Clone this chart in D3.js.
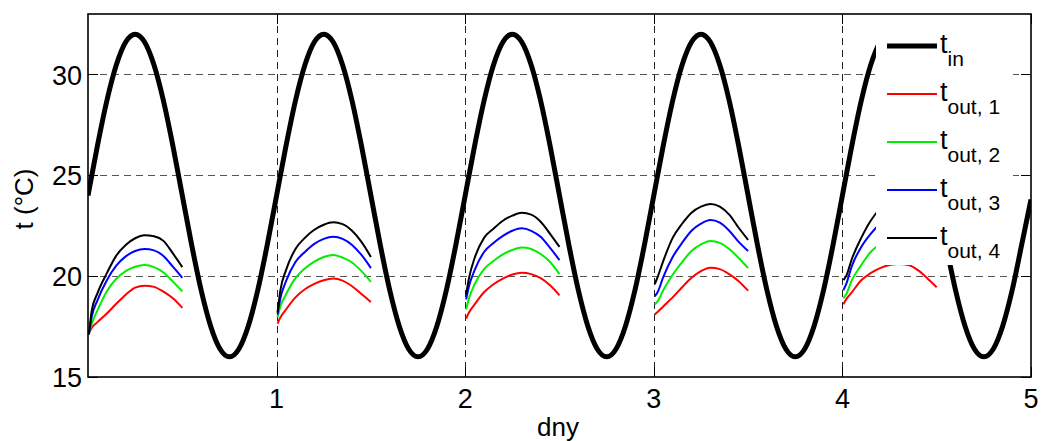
<!DOCTYPE html>
<html><head><meta charset="utf-8">
<script src="https://cdn.jsdelivr.net/npm/d3@7"></script>
<style>body{margin:0;background:#fff} svg{display:block} text{font-family:"Liberation Sans",Arial,sans-serif;fill:#000}</style>
</head><body><svg id="c" width="1043" height="441"></svg>
<script>
// ---- data ----
const xTicks = [1, 2, 3, 4, 5];
const yTicks = [15, 20, 25, 30];
const xGrid = [1, 2, 3, 4];
const yGrid = [20, 25, 30];
const days = [0, 1, 2, 3, 4];

// indoor temperature, sampled every 0.05 day from 0 to 5
const tInStep = 0.05;
const tIn = [
 24.0,26.47,28.70,30.47,31.61,32.0,31.61,30.47,28.70,26.47,24.0,21.53,19.30,17.53,16.39,16.0,16.39,17.53,19.30,21.53,
 24.0,26.47,28.70,30.47,31.61,32.0,31.61,30.47,28.70,26.47,24.0,21.53,19.30,17.53,16.39,16.0,16.39,17.53,19.30,21.53,
 24.0,26.47,28.70,30.47,31.61,32.0,31.61,30.47,28.70,26.47,24.0,21.53,19.30,17.53,16.39,16.0,16.39,17.53,19.30,21.53,
 24.0,26.47,28.70,30.47,31.61,32.0,31.61,30.47,28.70,26.47,24.0,21.53,19.30,17.53,16.39,16.0,16.39,17.53,19.30,21.53,
 24.0,26.47,28.70,30.47,31.61,32.0,31.61,30.47,28.70,26.47,24.0,21.53,19.30,17.53,16.39,16.0,16.39,17.53,19.30,21.53,
 23.8
];

// outlet temperatures: time offsets within each day, one row per day
const outOffsets = [0.005,0.02,0.05,0.10,0.15,0.20,0.25,0.30,0.35,0.40,0.45,0.50];
const tOut1 = [
 [17.20,17.45,17.72,18.15,18.63,19.08,19.43,19.53,19.47,19.23,18.90,18.43],
 [17.65,17.95,18.35,18.95,19.35,19.62,19.80,19.88,19.78,19.50,19.12,18.72],
 [17.90,18.20,18.60,19.20,19.60,19.88,20.08,20.17,20.10,19.90,19.55,19.05],
 [18.10,18.22,18.50,18.95,19.45,19.92,20.25,20.42,20.35,20.10,19.75,19.28],
 [18.60,18.85,19.20,19.80,20.15,20.40,20.55,20.60,20.55,20.30,19.90,19.45]
];
const tOut2 = [
 [17.20,17.65,18.30,19.25,19.87,20.25,20.47,20.55,20.45,20.18,19.73,19.25],
 [17.95,18.50,19.10,19.90,20.38,20.72,20.95,21.05,20.92,20.68,20.25,19.72],
 [18.35,18.90,19.60,20.35,20.75,21.08,21.30,21.42,21.35,21.10,20.70,20.10],
 [18.60,18.75,19.30,20.07,20.70,21.25,21.58,21.75,21.65,21.35,20.90,20.40],
 [18.90,19.10,19.80,20.55,21.20,21.60,21.90,22.05,21.95,21.65,21.20,20.75]
];
const tOut3 = [
 [17.15,18.00,18.80,19.80,20.52,20.98,21.25,21.35,21.28,21.00,20.47,19.92],
 [18.10,18.90,19.75,20.70,21.20,21.60,21.85,21.95,21.85,21.55,21.05,20.40],
 [18.85,19.50,20.30,21.20,21.65,22.00,22.25,22.37,22.25,21.95,21.40,20.80],
 [19.00,19.20,19.95,20.95,21.65,22.25,22.60,22.78,22.65,22.25,21.70,21.25],
 [19.30,19.60,20.50,21.45,22.10,22.60,22.95,23.10,22.95,22.60,22.05,21.55]
];
const tOut4 = [
 [17.10,18.30,19.15,20.15,21.02,21.55,21.88,22.03,21.98,21.75,21.13,20.45],
 [18.20,19.30,20.30,21.35,21.90,22.30,22.55,22.67,22.58,22.25,21.70,20.95],
 [19.10,19.90,20.90,21.90,22.35,22.75,23.00,23.15,23.05,22.70,22.10,21.45],
 [19.60,19.95,20.75,21.90,22.60,23.15,23.45,23.58,23.45,23.05,22.40,21.80],
 [19.80,20.00,20.85,21.90,22.75,23.35,23.70,23.85,23.70,23.30,22.70,22.10]
];
const seriesNames = ["in", "out, 1", "out, 2", "out, 3", "out, 4"];
const seriesColors = ["#000000", "#ff0000", "#00ee00", "#0000ff", "#000000"];

// ---- layout ----
const L = 88, R = 1031, T = 14, B = 377;
const svg = d3.select("#c");
const x = d3.scaleLinear().domain([0, 5]).range([L, R]);
const y = d3.scaleLinear().domain([15, 33]).range([B, T]);

svg.append("defs").append("clipPath").attr("id", "clip")
  .append("rect").attr("x", L).attr("y", T).attr("width", R - L).attr("height", B - T);

// grid
svg.append("g").selectAll("line").data(yGrid).join("line")
  .attr("x1", L).attr("x2", R).attr("y1", d => Math.round(y(d)) + 0.5).attr("y2", d => Math.round(y(d)) + 0.5)
  .attr("stroke", "#555").attr("stroke-width", 1.2).attr("stroke-dasharray", "7,5");
svg.append("g").selectAll("line").data(xGrid).join("line")
  .attr("y1", T).attr("y2", B).attr("x1", d => Math.round(x(d)) + 0.5).attr("x2", d => Math.round(x(d)) + 0.5)
  .attr("stroke", "#222").attr("stroke-width", 1).attr("stroke-dasharray", "7,5");

const plot = svg.append("g").attr("clip-path", "url(#clip)");
const line = d3.line().x(d => x(d[0])).y(d => y(d[1])).curve(d3.curveMonotoneX);

// indoor
const tInPts = tIn.map((v, i) => [i * tInStep, v]);
plot.append("path").attr("d", line(tInPts)).attr("fill", "none")
  .attr("stroke", "#000").attr("stroke-width", 5).attr("stroke-linejoin", "round");

// outlets
const outs = [tOut1, tOut2, tOut3, tOut4];
outs.forEach((s, k) => {
  days.forEach(d => {
    const pts = outOffsets.map((o, i) => [d + o, s[d][i]]);
    plot.append("path").attr("d", line(pts)).attr("fill", "none")
      .attr("stroke", seriesColors[k + 1]).attr("stroke-width", 2).attr("stroke-linejoin", "round");
  });
});

// legend
const lg = svg.append("g");
lg.append("rect").attr("x", 876).attr("y", 18).attr("width", 137).attr("height", 247).attr("fill", "#fff");
seriesNames.forEach((n, i) => {
  const yy = 46 + i * 48;
  lg.append("line").attr("x1", 887).attr("x2", 937).attr("y1", yy).attr("y2", yy)
    .attr("stroke", seriesColors[i]).attr("stroke-width", i === 0 ? 5 : 2);
  const t = lg.append("text").attr("x", 940).attr("y", yy + 7).attr("font-size", 27);
  t.append("tspan").text("t");
  t.append("tspan").attr("dy", 13).attr("font-size", 21).text(n);
});

// axes box
svg.append("rect").attr("x", L).attr("y", T).attr("width", R - L).attr("height", B - T)
  .attr("fill", "none").attr("stroke", "#000").attr("stroke-width", 1.6);
// inward ticks
const tk = svg.append("g").attr("stroke", "#000").attr("stroke-width", 1);
yTicks.forEach(v => {
  const yy = Math.round(y(v)) + 0.5;
  tk.append("line").attr("x1", L).attr("x2", L + 10).attr("y1", yy).attr("y2", yy);
  tk.append("line").attr("x1", R - 10).attr("x2", R).attr("y1", yy).attr("y2", yy);
});
xTicks.forEach(v => {
  const xx = Math.round(x(v)) + 0.5;
  tk.append("line").attr("x1", xx).attr("x2", xx).attr("y1", B).attr("y2", B - 10);
  tk.append("line").attr("x1", xx).attr("x2", xx).attr("y1", T).attr("y2", T + 10);
});

// tick labels
svg.append("g").selectAll("text").data(yTicks).join("text")
  .attr("x", 82).attr("y", d => y(d) + 10).attr("text-anchor", "end").attr("font-size", 27)
  .text(d => d);
svg.append("g").selectAll("text").data(xTicks).join("text")
  .attr("x", d => x(d)).attr("y", 408).attr("text-anchor", "middle").attr("font-size", 27)
  .text(d => d);

// axis titles
svg.append("text").attr("x", 558).attr("y", 436).attr("text-anchor", "middle").attr("font-size", 26).text("dny");
svg.append("text").attr("transform", "translate(33,199) rotate(-90)").attr("text-anchor", "middle")
  .attr("font-size", 26).text("t (°C)");
</script></body></html>
